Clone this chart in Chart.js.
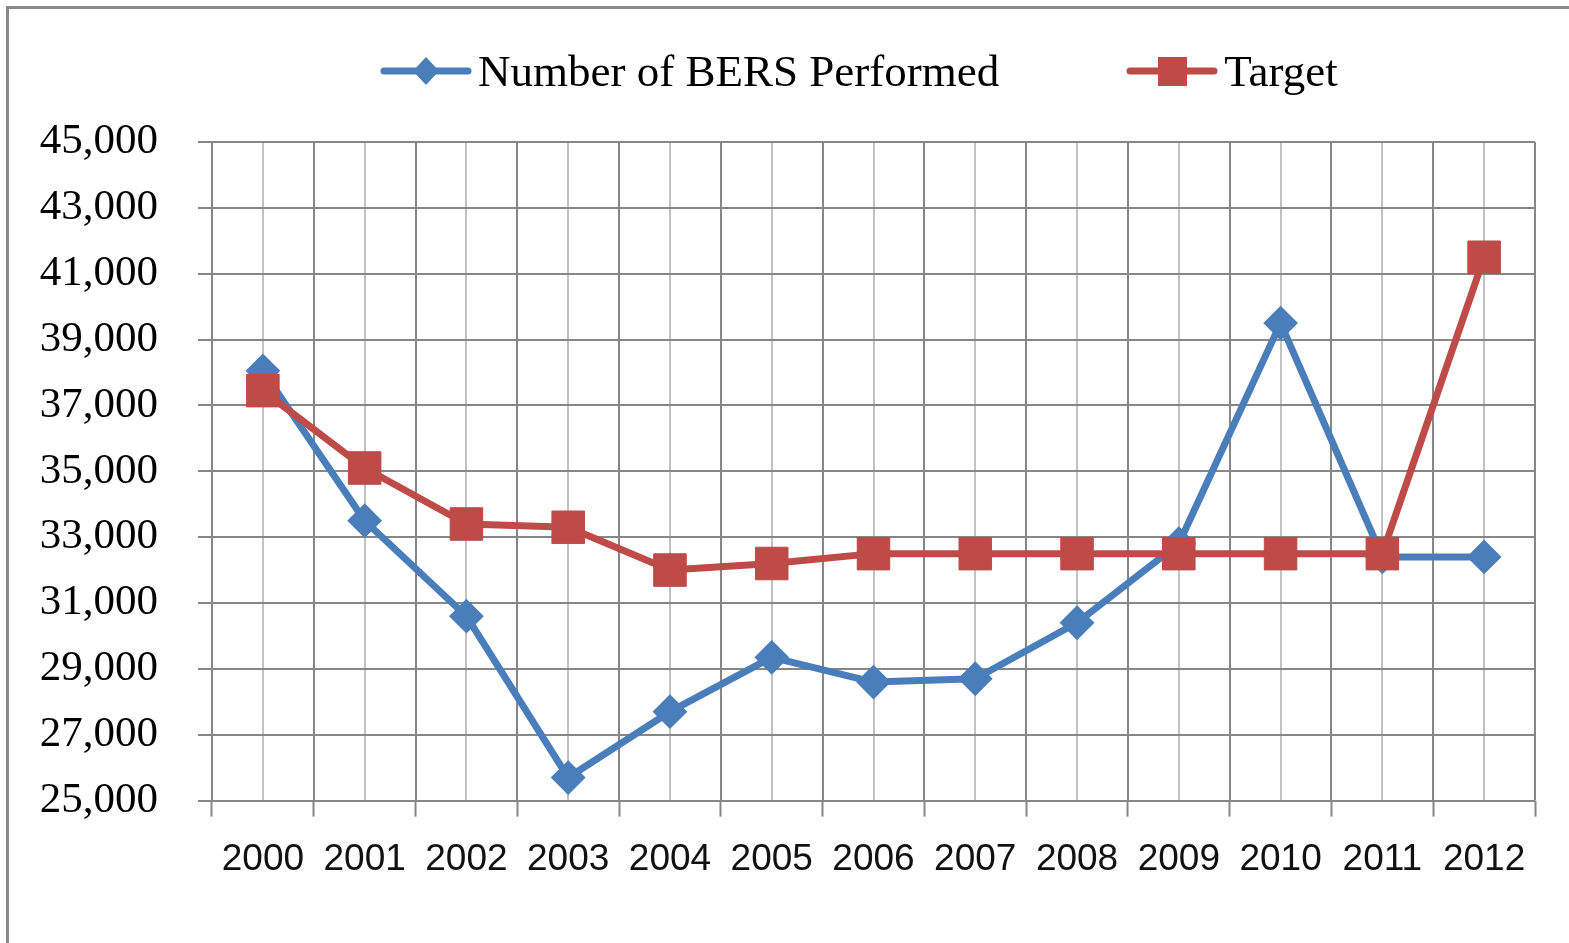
<!DOCTYPE html>
<html lang="en">
<head>
<meta charset="UTF-8">
<title>Number of BERS Performed vs Target</title>
<script src="https://cdn.jsdelivr.net/npm/chart.js"></script>
<style>
    html, body { margin: 0; padding: 0; background: #fff; }
    body { width: 1569px; height: 943px; overflow: hidden; position: relative; }
    #frame { position: absolute; left: 6px; top: 6px; width: 1620px; height: 1000px; border: 3px solid #8a8a8a; box-sizing: border-box; }
    #wrap { position: absolute; left: 0; top: 0; width: 1569px; height: 943px; }
    #legend { position: absolute; left: 380px; top: 46px; display: flex; align-items: center;
              font-family: 'Liberation Serif', serif; font-size: 45px; line-height: 50px; color: #000; }
    .item { display: flex; align-items: center; }
    .item + .item { margin-left: 127px; }
    .item canvas { margin-right: 6px; }
</style>
</head>
<body>
    <div id="frame"></div>
    <div id="wrap"><canvas id="bers"></canvas></div>
    <div id="legend"></div>

<script>
const years = ['2000', '2001', '2002', '2003', '2004', '2005', '2006', '2007', '2008', '2009', '2010', '2011', '2012'];
const bersPerformed = [38050, 33500, 30600, 25700, 27700, 29350, 28600, 28700, 30400, 32800, 39500, 32400, 32400];
const target = [37450, 35100, 33400, 33300, 32000, 32200, 32500, 32500, 32500, 32500, 32500, 32500, 41500];
const seriesNames = ['Number of BERS Performed', 'Target'];
const yMin = 25000, yMax = 45000, yStep = 2000;

const blue = '#4A7EBB';
const red = '#BE4B48';
const darkGrid = '#878787';
const lightGrid = '#c2c2c2';

// half-category slots, used only for the extra vertical grid lines
const halfSlots = years.flatMap(y => [y + 'a', y + 'b']);

// legend: line + marker glyph, then the name
function glyph(color, shape) {
    const c = document.createElement('canvas');
    c.width = 92; c.height = 40;
    const g = c.getContext('2d');
    g.strokeStyle = color; g.fillStyle = color;
    g.lineWidth = 7; g.lineCap = 'round';
    g.beginPath(); g.moveTo(4, 20); g.lineTo(88, 20); g.stroke();
    g.beginPath();
    if (shape === 'diamond') {
        g.moveTo(46, 6); g.lineTo(59, 20); g.lineTo(46, 34); g.lineTo(33, 20);
    } else {
        g.rect(32, 6, 29, 29);
    }
    g.fill();
    return c;
}
const legend = document.getElementById('legend');
[[seriesNames[0], blue, 'diamond'], [seriesNames[1], red, 'square']].forEach(function (s) {
    const item = document.createElement('div');
    item.className = 'item';
    item.appendChild(glyph(s[1], s[2]));
    const t = document.createElement('span');
    t.textContent = s[0];
    item.appendChild(t);
    legend.appendChild(item);
});

const ctx = document.getElementById('bers').getContext('2d');
new Chart(ctx, {
    type: 'line',
    data: {
        labels: years,
        datasets: [{
            label: seriesNames[0],
            data: bersPerformed,
            borderColor: blue,
            backgroundColor: blue,
            borderWidth: 7,
            borderJoinStyle: 'round',
            borderCapStyle: 'round',
            pointStyle: 'rectRot',
            pointRadius: 16,
            pointBorderWidth: 2,
            order: 2,
            tension: 0
        }, {
            label: seriesNames[1],
            data: target,
            borderColor: red,
            backgroundColor: red,
            borderWidth: 7,
            borderJoinStyle: 'round',
            borderCapStyle: 'round',
            pointStyle: 'rect',
            pointRadius: 23,
            pointBorderWidth: 1,
            order: 1,
            tension: 0
        }]
    },
    options: {
        responsive: true,
        maintainAspectRatio: false,
        animation: false,
        layout: { padding: { left: 37, right: 34, top: 142, bottom: 40 } },
        plugins: {
            legend: { display: false },
            tooltip: { enabled: false }
        },
        scales: {
            x: {
                type: 'category',
                offset: true,
                border: { display: false },
                grid: { offset: true, drawOnChartArea: false, drawTicks: true, tickLength: 16, tickColor: darkGrid, tickWidth: 2 },
                ticks: { color: '#111', padding: 21, font: { family: 'Liberation Sans', size: 37 } }
            },
            x2: {
                type: 'category',
                labels: halfSlots,
                position: 'top',
                offset: true,
                border: { display: false },
                grid: {
                    offset: true,
                    drawTicks: false,
                    lineWidth: 2,
                    color: c => (c.index % 2 === 1 ? lightGrid : darkGrid)
                },
                ticks: { display: false }
            },
            y: {
                min: yMin,
                max: yMax,
                border: { display: false },
                grid: { color: darkGrid, lineWidth: 2, tickLength: 14 },
                ticks: {
                    stepSize: yStep,
                    padding: 40,
                    color: '#000',
                    font: { family: 'Liberation Serif', size: 43 },
                    callback: v => v.toLocaleString('en-US')
                },
                afterFit: s => { s.width = 175; }
            }
        }
    }
});
</script>
</body>
</html>
